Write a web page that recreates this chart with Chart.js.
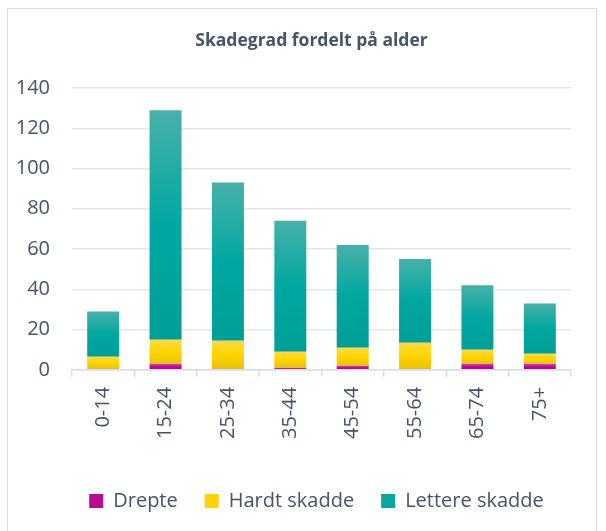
<!DOCTYPE html>
<html>
<head>
<meta charset="utf-8">
<script src="https://cdn.jsdelivr.net/npm/chart.js@4/dist/chart.umd.min.js"></script>
<style>
  html, body { margin: 0; padding: 0; background: #ffffff; }
  #frame { position: absolute; left: 7px; top: 8px; width: 590px; height: 560px; border: 1px solid #d9dde3; box-sizing: border-box; }
  #c { position: absolute; left: 8px; top: 9px; }
</style>
</head>
<body>
<div id="frame"></div>
<canvas id="c" width="588" height="522"></canvas>
<script>
const categories = ['0-14', '15-24', '25-34', '35-44', '45-54', '55-64', '65-74', '75+'];
const drepte = [0.5, 3, 0.5, 1, 2, 0.5, 3, 3];
const hardtSkadde = [6, 12, 14, 8, 9, 13, 7, 5];
const lettereSkadde = [22.5, 114, 78.5, 65, 51, 41.5, 32, 25];
const seriesNames = ['Drepte', 'Hardt skadde', 'Lettere skadde'];
const yTicks = [0, 20, 40, 60, 80, 100, 120, 140];

const seriesData = [drepte, hardtSkadde, lettereSkadde];
const stops = [
  ['#cc4cab', '#bc0693', '#ad0088'],
  ['#ffda48', '#ffd400', '#ebc300'],
  ['#48b0aa', '#00a8a1', '#009e97']
];
const solid = ['#bb0a92', '#ffd20a', '#08a8a0'];

function gradFor(ctx) {
  const chart = ctx.chart;
  const ds = ctx.datasetIndex;
  if (ctx.type !== 'data' || !chart.chartArea || !chart.scales.y) return solid[ds];
  const i = ctx.dataIndex;
  let base = 0;
  for (let k = 0; k < ds; k++) base += seriesData[k][i];
  const top = base + seriesData[ds][i];
  const y = chart.scales.y;
  const y0 = y.getPixelForValue(top), y1 = y.getPixelForValue(base);
  if (!isFinite(y0) || !isFinite(y1) || y0 === y1) return solid[ds];
  const g = chart.ctx.createLinearGradient(0, y0, 0, y1);
  g.addColorStop(0, stops[ds][0]);
  g.addColorStop(0.5, stops[ds][1]);
  g.addColorStop(1, stops[ds][2]);
  return g;
}

Chart.defaults.font.family = "'Open Sans', 'DejaVu Sans', sans-serif";
const textColor = '#44546a';

const shiftPlugin = {
  id: 'shiftBlocks',
  afterLayout(chart) {
    const t = chart.titleBlock;
    if (t) {
      const w = t.right - t.left;
      const cx = 311.5 - 8;
      t.left = cx - w / 2; t.right = cx + w / 2;
    }
    const l = chart.legend;
    if (l) {
      const w = l.right - l.left;
      const cx = 316.5 - 8;
      l.left = cx - w / 2; l.right = cx + w / 2;
    }
  }
};

new Chart(document.getElementById('c'), {
  type: 'bar',
  data: {
    labels: categories,
    datasets: seriesNames.map((name, k) => ({
      label: name,
      data: seriesData[k],
      backgroundColor: gradFor,
      borderWidth: 0,
      categoryPercentage: 1,
      barPercentage: 0.513
    }))
  },
  options: {
    responsive: false,
    animation: false,
    layout: { padding: { left: 7, right: 25, top: 0, bottom: 10 } },
    plugins: {
      tooltip: { enabled: false },
      title: {
        display: true,
        text: 'Skadegrad fordelt på alder',
        color: textColor,
        font: { size: 17.5, weight: 'bold' },
        padding: { top: 22, bottom: 36 }
      },
      legend: {
        position: 'bottom',
        labels: {
          color: textColor,
          font: { size: 20 },
          boxWidth: 14,
          boxHeight: 14,
          padding: 27,
          generateLabels: (chart) => seriesNames.map((n, k) => ({
            text: n, fillStyle: solid[k], strokeStyle: 'rgba(0,0,0,0)', lineWidth: 0,
            datasetIndex: k, fontColor: textColor, hidden: false
          }))
        }
      }
    },
    scales: {
      x: {
        stacked: true,
        afterFit: (s) => { s.height = s.height + 15; },
        grid: { offset: true, drawOnChartArea: false, drawTicks: true, tickLength: 7, color: '#d9dde3', lineWidth: 1.5 },
        border: { display: true, color: '#d9dde3', width: 1.5 },
        ticks: { color: textColor, font: { size: 20 }, minRotation: 90, maxRotation: 90, padding: 10 }
      },
      y: {
        stacked: true,
        min: 0,
        max: 140,
        afterBuildTicks: (s) => { s.ticks = yTicks.map(v => ({ value: v })); },
        afterFit: (s) => { s.width = 57; },
        grid: { color: '#e1e5ea', lineWidth: 1.5, drawTicks: false },
        border: { display: false },
        ticks: { color: textColor, font: { size: 20 }, padding: 22 }
      }
    }
  },
  plugins: [shiftPlugin]
});
</script>
</body>
</html>
